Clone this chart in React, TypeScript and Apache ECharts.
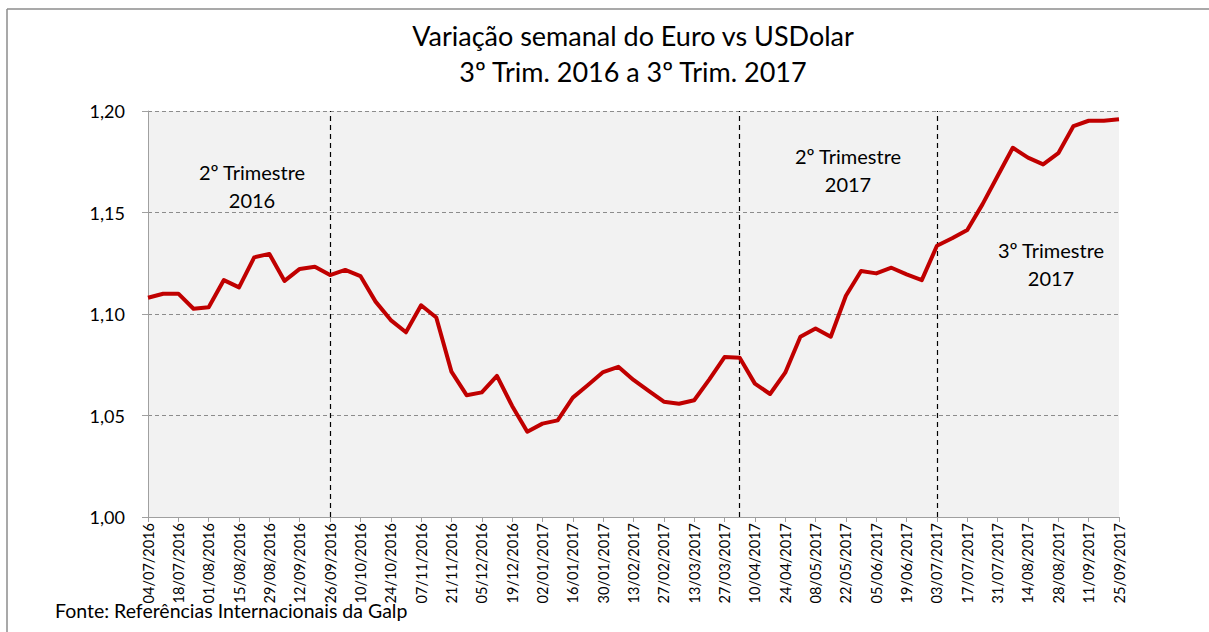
import React, { useEffect, useRef } from "react";
import * as echarts from "echarts";

const dates = [
  "04/07/2016", "11/07/2016", "18/07/2016", "25/07/2016", "01/08/2016", "08/08/2016", "15/08/2016", "22/08/2016",
  "29/08/2016", "05/09/2016", "12/09/2016", "19/09/2016", "26/09/2016", "03/10/2016", "10/10/2016", "17/10/2016",
  "24/10/2016", "31/10/2016", "07/11/2016", "14/11/2016", "21/11/2016", "28/11/2016", "05/12/2016", "12/12/2016",
  "19/12/2016", "26/12/2016", "02/01/2017", "09/01/2017", "16/01/2017", "23/01/2017", "30/01/2017", "06/02/2017",
  "13/02/2017", "20/02/2017", "27/02/2017", "06/03/2017", "13/03/2017", "20/03/2017", "27/03/2017", "03/04/2017",
  "10/04/2017", "17/04/2017", "24/04/2017", "01/05/2017", "08/05/2017", "15/05/2017", "22/05/2017", "29/05/2017",
  "05/06/2017", "12/06/2017", "19/06/2017", "26/06/2017", "03/07/2017", "10/07/2017", "17/07/2017", "24/07/2017",
  "31/07/2017", "07/08/2017", "14/08/2017", "21/08/2017", "28/08/2017", "04/09/2017", "11/09/2017", "18/09/2017",
  "25/09/2017",
];

const eurUsd = [
  1.108, 1.110, 1.110, 1.1026, 1.1033, 1.1167, 1.1131, 1.1279, 1.1296, 1.1163,
  1.1222, 1.1233, 1.1192, 1.1217, 1.1187, 1.1061, 1.0970, 1.0910, 1.1043, 1.0983,
  1.0716, 1.0600, 1.0614, 1.0695, 1.0547, 1.0420, 1.0460, 1.0476, 1.0588, 1.0650,
  1.0714, 1.0740, 1.0675, 1.0621, 1.0568, 1.0558, 1.0575, 1.0678, 1.0788, 1.0785,
  1.0657, 1.0606, 1.0711, 1.0888, 1.0929, 1.0888, 1.1090, 1.1212, 1.1200, 1.1228,
  1.1195, 1.1167, 1.1336, 1.1373, 1.1414, 1.1540, 1.1680, 1.1819, 1.1770, 1.1737,
  1.1792, 1.1926, 1.1952, 1.1952, 1.1959,
];

const quarterBreaks = ["26/09/2016", "03/04/2017", "03/07/2017"];

const titleLines = ["Variação semanal do Euro vs USDolar", "3º Trim. 2016 a 3º Trim. 2017"];
const source = "Fonte: Referências Internacionais da Galp";
const annotations = ["2º Trimestre\n2016", "2º Trimestre\n2017", "3º Trimestre\n2017"];

const FONT = "Lato, 'Open Sans', sans-serif";

export default function App() {
  const ref = useRef<HTMLDivElement>(null);

  useEffect(() => {
    if (!ref.current) return;
    const chart = echarts.init(ref.current, null, { renderer: "svg" });
    chart.setOption({
      animation: false,
      backgroundColor: "#ffffff",
      textStyle: { fontFamily: FONT },
      grid: {
        left: 148,
        top: 111,
        right: 90,
        bottom: 115,
        show: true,
        backgroundColor: "#f2f2f2",
        borderWidth: 0,
      },
      xAxis: {
        type: "category",
        data: dates,
        boundaryGap: false,
        axisLine: { lineStyle: { color: "#a0a0a0", width: 1 } },
        axisTick: { show: true, interval: 1, length: 5, lineStyle: { color: "#a0a0a0" } },
        axisLabel: {
          interval: 1,
          rotate: 90,
          fontSize: 14.5,
          color: "#000",
          margin: 6,
          fontFamily: FONT,
        },
        splitLine: { show: false },
      },
      yAxis: {
        type: "value",
        min: 1.0,
        max: 1.2,
        interval: 0.05,
        axisLine: { show: true, lineStyle: { color: "#a0a0a0", width: 1 } },
        axisTick: { show: true, length: 6, lineStyle: { color: "#a0a0a0" } },
        axisLabel: {
          fontSize: 18,
          color: "#000",
          margin: 23,
          fontFamily: FONT,
          formatter: (v: number) => v.toFixed(2).replace(".", ","),
        },
        splitLine: { show: true, lineStyle: { type: [4, 3], color: "#8c8c8c", width: 1 } },
      },
      series: [
        {
          type: "line",
          data: eurUsd,
          showSymbol: false,
          symbol: "none",
          lineStyle: { color: "#c00000", width: 4, join: "round" },
          z: 3,
          markLine: {
            silent: true,
            symbol: ["none", "none"],
            label: { show: false },
            lineStyle: { color: "#000", type: [5, 4], width: 1.2 },
            data: quarterBreaks.map((d) => ({ xAxis: d })),
            z: 2,
          },
        },
      ],
      graphic: [
        { type: "line", shape: { x1: 7, y1: 9, x2: 1209, y2: 9 }, style: { stroke: "#8c8c8c", lineWidth: 1.5 } },
        { type: "line", shape: { x1: 7, y1: 9, x2: 7, y2: 632 }, style: { stroke: "#8c8c8c", lineWidth: 1.5 } },
        {
          type: "text",
          x: 633,
          y: 17,
          style: {
            text: titleLines.join("\n"),
            fontSize: 27,
            lineHeight: 36,
            fill: "#000",
            textAlign: "center",
            fontFamily: FONT,
          },
        },
        {
          type: "text",
          left: 55,
          top: 600,
          style: { text: source, fontSize: 19.5, fill: "#000", fontFamily: FONT },
        },
        {
          type: "text",
          x: 252,
          y: 158,
          style: { text: annotations[0], fontSize: 20, lineHeight: 28, fill: "#000", textAlign: "center", fontFamily: FONT },
        },
        {
          type: "text",
          x: 848,
          y: 142,
          style: { text: annotations[1], fontSize: 20, lineHeight: 28, fill: "#000", textAlign: "center", fontFamily: FONT },
        },
        {
          type: "text",
          x: 1051,
          y: 236,
          style: { text: annotations[2], fontSize: 20, lineHeight: 28, fill: "#000", textAlign: "center", fontFamily: FONT },
        },
      ],
    });
    return () => chart.dispose();
  }, []);

  return (
    <div
      ref={ref}
      style={{ position: "fixed", left: 0, top: 0, width: 1209, height: 632 }}
    />
  );
}
